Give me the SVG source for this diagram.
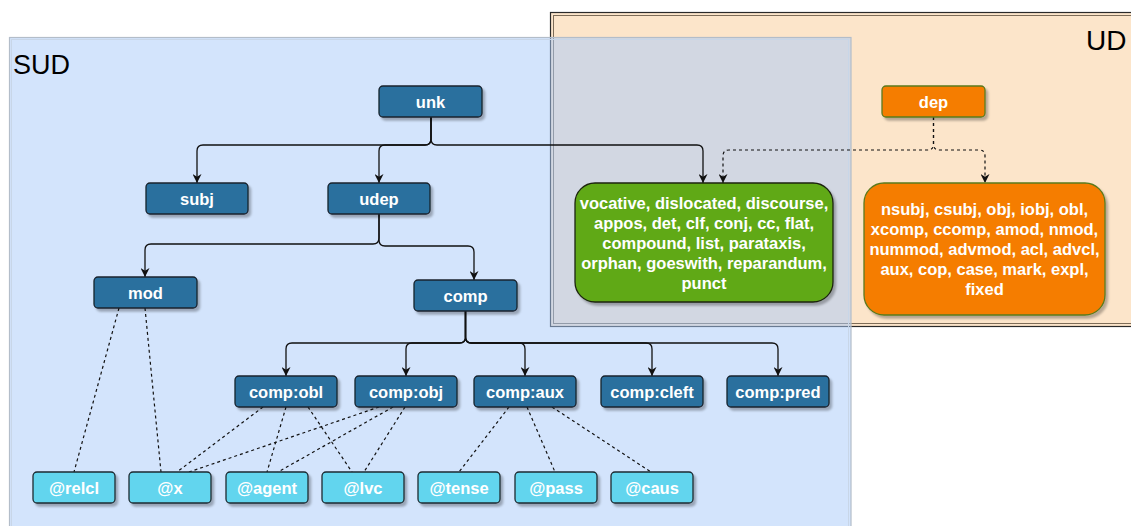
<svg xmlns="http://www.w3.org/2000/svg" width="1131" height="526" viewBox="0 0 1131 526">
<style>
text{font-family:"Liberation Sans",Arial,sans-serif}
.lbl{font-size:16.5px;font-weight:bold;fill:#fff;text-anchor:middle}
.dk{fill:#2c6f9e;stroke:#18222c;stroke-width:1.3}
.lf{fill:#62d5ee;stroke:#1e2a30;stroke-width:1.3}
.e{fill:none;stroke:#111;stroke-width:1.3}
.d{fill:none;stroke:#111;stroke-width:1.2;stroke-dasharray:3 3}
.title{font-size:27px;fill:#000}
</style>
<defs>
<filter id="sh" x="-10%" y="-10%" width="130%" height="140%">
<feDropShadow dx="2.5" dy="3" stdDeviation="1" flood-color="#000" flood-opacity="0.28"/>
</filter>
<marker id="ar" viewBox="0 0 10 10" refX="10" refY="5" markerWidth="9" markerHeight="9" markerUnits="userSpaceOnUse" orient="auto">
<path d="M0,0 L10,5 L0,10 L3,5 z" fill="#111"/>
</marker>
</defs>

<!-- containers -->
<g id="UD">
<rect x="550.5" y="12.5" width="600" height="314" fill="#fce5ca" stroke="#2a2a2a" stroke-width="1.2"/>
<rect x="553.5" y="15.5" width="600" height="308" fill="none" stroke="#7d6c58" stroke-width="1"/>
</g>
<g id="SUD">
<rect x="9.5" y="37.5" width="841.5" height="500" fill="#a8c9f9" fill-opacity="0.5" stroke="#b3bdc9" stroke-width="1.2"/>
<rect x="11.5" y="39.5" width="837" height="500" fill="none" stroke="#c8d6e8" stroke-width="1"/>
</g>
<text class="title" x="13" y="74">SUD</text>
<text class="title" x="1086" y="50" style="font-size:28px">UD</text>

<!-- connectors -->
<g id="connectors">
<path class="e" marker-end="url(#ar)" d="M431,117 V139 Q431,145 425,145 H203 Q197,145 197,151 V183"/>
<path class="e" marker-end="url(#ar)" d="M431,117 V139 Q431,145 425,145 H385 Q379,145 379,151 V183"/>
<path class="e" marker-end="url(#ar)" d="M431,117 V139 Q431,145 437,145 H697 Q703,145 703,151 V183"/>
<path class="d" marker-end="url(#ar)" d="M933.5,117 V144 Q933.5,150 927.5,150 H729 Q723,150 723,156 V183"/>
<path class="d" marker-end="url(#ar)" d="M933.5,117 V144 Q933.5,150 939.5,150 H979 Q985,150 985,156 V183"/>
<path class="e" marker-end="url(#ar)" d="M379,214 V238 Q379,244 373,244 H151 Q145,244 145,250 V277"/>
<path class="e" marker-end="url(#ar)" d="M379,214 V240 Q379,246 385,246 H468 Q474,246 474,252 V280"/>
<path class="e" marker-end="url(#ar)" d="M465.5,311 V337 Q465.5,343 459.5,343 H292 Q286,343 286,349 V376"/>
<path class="e" marker-end="url(#ar)" d="M465.5,311 V337 Q465.5,343 459.5,343 H412 Q406,343 406,349 V376"/>
<path class="e" marker-end="url(#ar)" d="M465.5,311 V337 Q465.5,343 471.5,343 H519 Q525,343 525,349 V376"/>
<path class="e" marker-end="url(#ar)" d="M465.5,311 V337 Q465.5,343 471.5,343 H646 Q652,343 652,349 V376"/>
<path class="e" marker-end="url(#ar)" d="M465.5,311 V337 Q465.5,343 471.5,343 H772 Q778,343 778,349 V376"/>
<path class="d" d="M119,308 L74,472"/>
<path class="d" d="M145,308 L161,472"/>
<path class="d" d="M263,407 L177,472"/>
<path class="d" d="M286,407 L267,472"/>
<path class="d" d="M308,407 L352,472"/>
<path class="d" d="M379,407 L189,472"/>
<path class="d" d="M393,407 L278,472"/>
<path class="d" d="M405,407 L364,472"/>
<path class="d" d="M509,407 L459,472"/>
<path class="d" d="M527,407 L555,472"/>
<path class="d" d="M552,407 L651,472"/>
</g>

<!-- nodes -->
<g id="unk"><rect class="dk" filter="url(#sh)" x="379" y="86" width="103" height="31" rx="4"/><text class="lbl" x="430.5" y="107.5">unk</text></g>
<g id="dep"><rect filter="url(#sh)" x="882" y="86" width="103" height="31" rx="4" fill="#f57d00" stroke="#5a7a1e" stroke-width="1.3"/><text class="lbl" x="933.5" y="107.5">dep</text></g>
<g id="subj"><rect class="dk" filter="url(#sh)" x="146" y="183" width="102" height="31" rx="4"/><text class="lbl" x="197" y="204.5">subj</text></g>
<g id="udep"><rect class="dk" filter="url(#sh)" x="328" y="183" width="102" height="31" rx="4"/><text class="lbl" x="379" y="204.5">udep</text></g>
<g id="ud_green">
<rect filter="url(#sh)" x="575" y="183" width="258" height="119" rx="20" fill="#60a917" stroke="#1c2410" stroke-width="1.3"/>
<text class="lbl" x="704" y="209">vocative, dislocated, discourse,</text>
<text class="lbl" x="704" y="229">appos, det, clf, conj, cc, flat,</text>
<text class="lbl" x="704" y="249">compound, list, parataxis,</text>
<text class="lbl" x="704" y="269">orphan, goeswith, reparandum,</text>
<text class="lbl" x="704" y="289">punct</text>
</g>
<g id="ud_orange">
<rect filter="url(#sh)" x="864" y="183" width="241" height="132" rx="20" fill="#f57d00" stroke="#5a7a1e" stroke-width="1.3"/>
<text class="lbl" x="984.5" y="215">nsubj, csubj, obj, iobj, obl,</text>
<text class="lbl" x="984.5" y="235">xcomp, ccomp, amod, nmod,</text>
<text class="lbl" x="984.5" y="255">nummod, advmod, acl, advcl,</text>
<text class="lbl" x="984.5" y="275">aux, cop, case, mark, expl,</text>
<text class="lbl" x="984.5" y="295">fixed</text>
</g>
<g id="mod"><rect class="dk" filter="url(#sh)" x="94" y="277" width="103" height="31" rx="4"/><text class="lbl" x="145.5" y="298.5">mod</text></g>
<g id="comp"><rect class="dk" filter="url(#sh)" x="414" y="280" width="103" height="31" rx="4"/><text class="lbl" x="465.5" y="301.5">comp</text></g>
<g id="comp_obl"><rect class="dk" filter="url(#sh)" x="235" y="376" width="102" height="31" rx="4"/><text class="lbl" x="286" y="397.5">comp:obl</text></g>
<g id="comp_obj"><rect class="dk" filter="url(#sh)" x="355" y="376" width="102" height="31" rx="4"/><text class="lbl" x="406" y="397.5">comp:obj</text></g>
<g id="comp_aux"><rect class="dk" filter="url(#sh)" x="474" y="376" width="102" height="31" rx="4"/><text class="lbl" x="525" y="397.5">comp:aux</text></g>
<g id="comp_cleft"><rect class="dk" filter="url(#sh)" x="601" y="376" width="102" height="31" rx="4"/><text class="lbl" x="652" y="397.5">comp:cleft</text></g>
<g id="comp_pred"><rect class="dk" filter="url(#sh)" x="727" y="376" width="102" height="31" rx="4"/><text class="lbl" x="778" y="397.5">comp:pred</text></g>
<g id="relcl"><rect class="lf" filter="url(#sh)" x="33" y="472" width="82" height="31" rx="4"/><text class="lbl" x="74" y="493.5">@relcl</text></g>
<g id="x"><rect class="lf" filter="url(#sh)" x="129" y="472" width="82" height="31" rx="4"/><text class="lbl" x="170" y="493.5">@x</text></g>
<g id="agent"><rect class="lf" filter="url(#sh)" x="226" y="472" width="82" height="31" rx="4"/><text class="lbl" x="267" y="493.5">@agent</text></g>
<g id="lvc"><rect class="lf" filter="url(#sh)" x="322" y="472" width="82" height="31" rx="4"/><text class="lbl" x="363" y="493.5">@lvc</text></g>
<g id="tense"><rect class="lf" filter="url(#sh)" x="418" y="472" width="82" height="31" rx="4"/><text class="lbl" x="459" y="493.5">@tense</text></g>
<g id="pass"><rect class="lf" filter="url(#sh)" x="515" y="472" width="82" height="31" rx="4"/><text class="lbl" x="556" y="493.5">@pass</text></g>
<g id="caus"><rect class="lf" filter="url(#sh)" x="611" y="472" width="82" height="31" rx="4"/><text class="lbl" x="652" y="493.5">@caus</text></g>
</svg>
